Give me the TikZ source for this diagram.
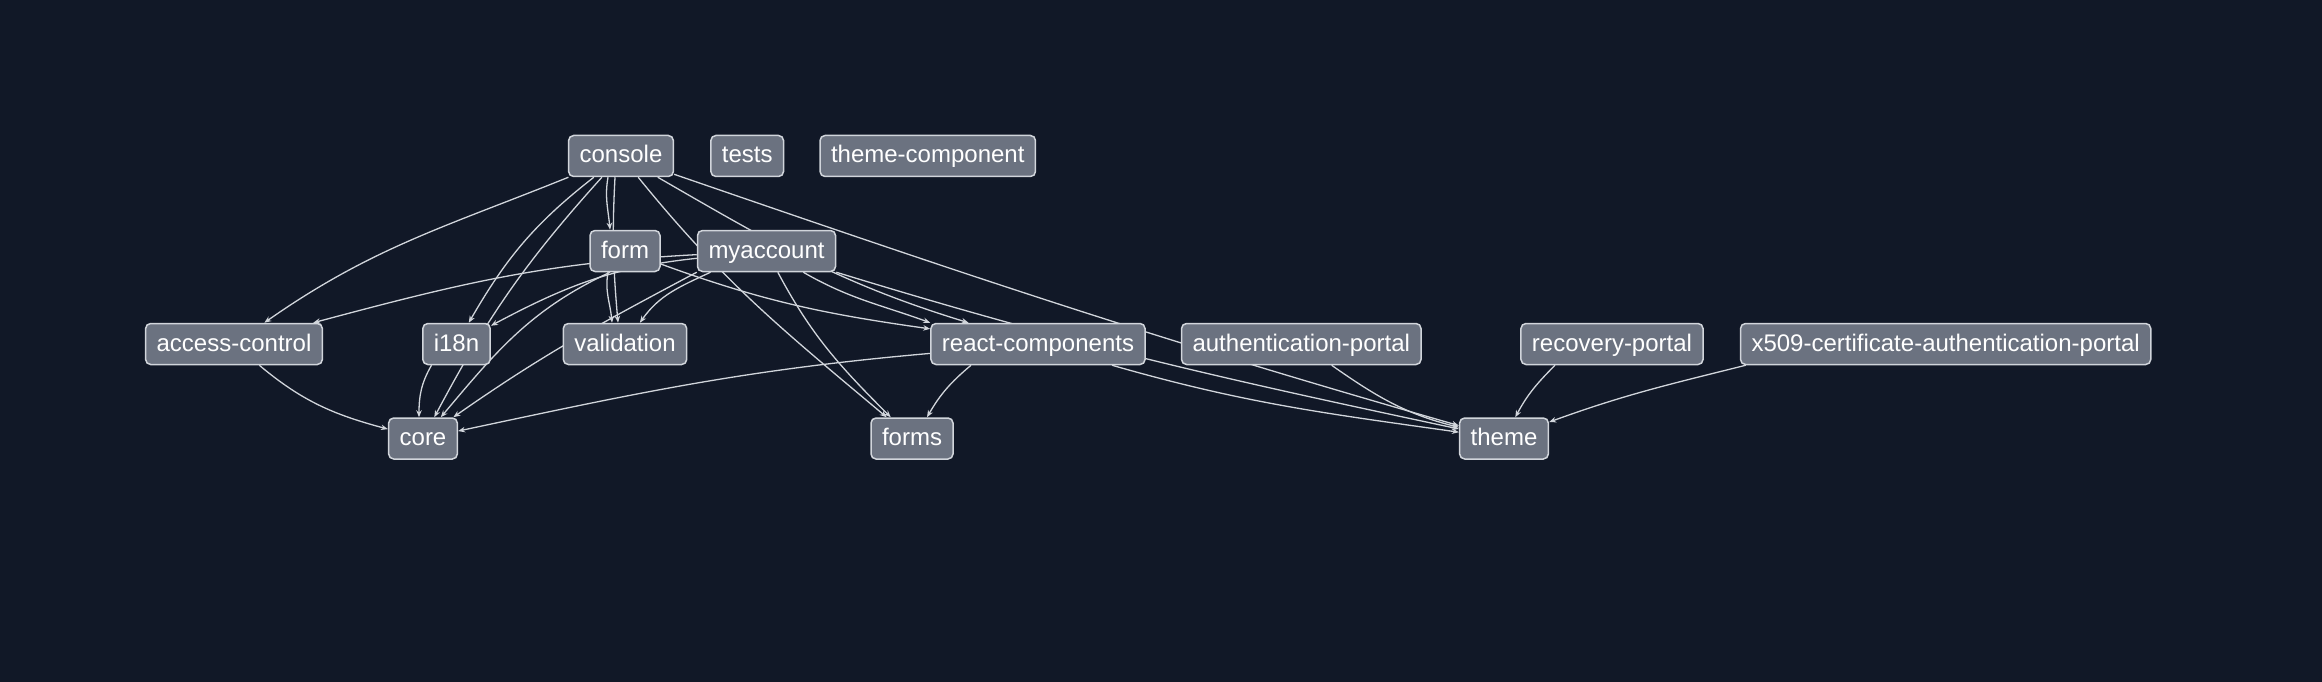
\documentclass[tikz,border=0pt]{standalone}
\usepackage{fontspec}
\setmainfont{Liberation Sans}
\usepackage{xcolor}
\usepackage{tikz}
\usetikzlibrary{arrows.meta,positioning}
\definecolor{pagebg}{HTML}{111827}
\definecolor{pkgfill}{HTML}{6B7280}
\definecolor{pkgstroke}{HTML}{D1D5DB}
\definecolor{depline}{HTML}{D1D5DB}
\pgfdeclarelayer{canvas}
\pgfdeclarelayer{links}
\pgfsetlayers{canvas,links,main}
\tikzset{
  pkg/.style={
    rectangle,
    rounded corners=5pt,
    draw=pkgstroke,
    line width=1.5pt,
    fill=pkgfill,
    text=white,
    minimum height=41pt,
    inner xsep=11pt,
    text height=18pt,
    text depth=4pt,
    font=\fontsize{24}{28}\selectfont
  },
  dep/.style={-{Stealth[length=7pt,width=5.5pt]},line width=1.3pt,draw=depline}
}

\begin{document}
\begin{tikzpicture}[x=1pt,y=-1pt,node distance=36pt]
  \begin{pgfonlayer}{canvas}
    \fill[pagebg] (0,0) rectangle (2322,682);
  \end{pgfonlayer}

  \node[pkg] (console) at (621,156) {console};
  \node[pkg, right=36pt of console] (tests) {tests};
  \node[pkg, right=35pt of tests] (themeComponent) {theme-component};

  \node[pkg] (form) at (625,251) {form};
  \node[pkg, right=36pt of form] (myaccount) {myaccount};

  \node[pkg] (accessControl) at (234,344) {access-control};
  \node[pkg] (i18n) at (456.5,344) {i18n};
  \node[pkg] (validation) at (625,344) {validation};
  \node[pkg] (reactComponents) at (1038,344) {react-components};
  \node[pkg, right=35pt of reactComponents] (authPortal) {authentication-portal};
  \node[pkg] (recoveryPortal) at (1612,344) {recovery-portal};
  \node[pkg, right=36pt of recoveryPortal] (x509Portal) {x509-certificate-authentication-portal};

  \node[pkg] (core) at (423,438.5) {core};
  \node[pkg] (forms) at (912,438.5) {forms};
  \node[pkg] (theme) at (1504,438.5) {theme};

  \begin{pgfonlayer}{links}
    % console
    \draw[dep] (console) to[out=202,in=35] (accessControl);
    \draw[dep] (console) to[out=218,in=60] (i18n);
    \draw[dep] (console) to[out=228,in=62] (core);
    \draw[dep] ([xshift=-13pt]console.south) to[out=-100,in=95] ([xshift=-15pt]form.north);
    \draw[dep] ([xshift=-6pt]console.south) to[out=-93,in=95] ([xshift=-7pt]validation.north);
    \draw[dep] (console) to[out=-51,in=140] (forms);
    \draw[dep] (console) to[out=-30,in=163] (reactComponents);
    \draw[dep] (console) to[out=-19,in=164] (theme);

    % form
    \draw[dep] ([xshift=-17pt]form.south) to[out=-100,in=95] ([xshift=-13pt]validation.north);
    \draw[dep] ([xshift=-15pt]form.south) to[out=205,in=50] (core);
    \draw[dep] (form) to[out=-20,in=172] (reactComponents);

    % myaccount
    \draw[dep] (myaccount) to[out=183,in=15] (accessControl);
    \draw[dep] (myaccount) to[out=186,in=28] (i18n);
    \draw[dep] ([xshift=-56pt]myaccount.south) to[out=205,in=55] (validation);
    \draw[dep] (myaccount.south west) to[out=208,in=35] (core);
    \draw[dep] (myaccount) to[out=-30,in=160] (reactComponents.north west);
    \draw[dep] (myaccount) to[out=-62,in=135] (forms);
    \draw[dep] (myaccount) to[out=-17,in=168] (theme);

    % lower rows
    \draw[dep] (accessControl) to[out=-40,in=165] (core);
    \draw[dep] ([xshift=-25pt]i18n.south) to[out=240,in=90] ([xshift=-4pt]core.north);
    \draw[dep] (reactComponents) to[out=185,in=12] (core);
    \draw[dep] ([xshift=-67pt]reactComponents.south) to[out=220,in=60] ([xshift=15pt]forms.north);
    \draw[dep] (reactComponents) to[out=-16,in=172] (theme);
    \draw[dep] (authPortal) to[out=-35,in=166] (theme);
    \draw[dep] ([xshift=-57pt]recoveryPortal.south) to[out=225,in=62] (theme);
    \draw[dep] ([xshift=6pt]x509Portal.south west) to[out=194,in=20] (theme);
  \end{pgfonlayer}
\end{tikzpicture}
\end{document}
